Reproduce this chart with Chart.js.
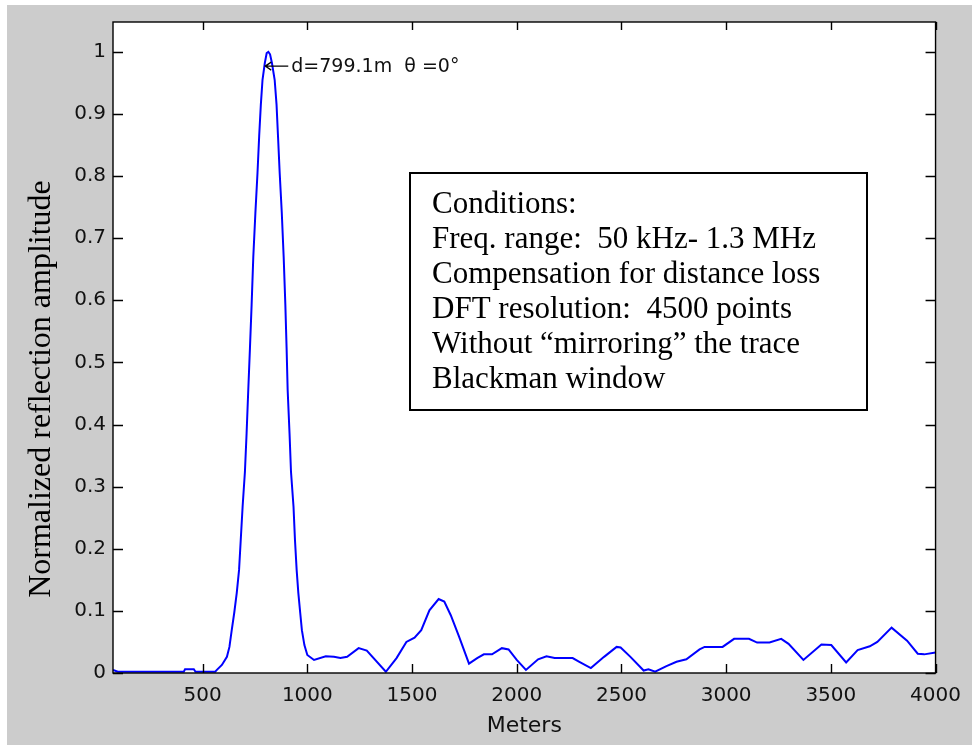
<!DOCTYPE html>
<html>
<head>
<meta charset="utf-8">
<script src="https://cdn.jsdelivr.net/npm/chart.js@4.4.1/dist/chart.umd.min.js"></script>
<style>
  html, body { margin: 0; padding: 0; background: #ffffff; }
  #wrap { width: 972px; height: 745px; position: relative; }
</style>
</head>
<body>
<div id="wrap"><canvas id="reflChart" width="972" height="745"></canvas></div>
<script>
// distance (m) and normalized amplitude
const distances = [
    72, 95, 410, 416, 458, 466, 560, 568, 592, 616, 628, 639, 651, 663, 674, 682, 691, 702, 710, 718,
    726, 734, 742, 752, 762, 770, 778, 786, 797, 806, 814, 822, 831, 844, 853, 860, 868, 878, 887, 895,
    901, 906, 915, 922, 934, 941, 949, 957, 966, 974, 986, 1000, 1032, 1088, 1127, 1158, 1190, 1245, 1284, 1375,
    1426, 1473, 1512, 1544, 1583, 1627, 1654, 1685, 1725, 1772, 1811, 1843, 1882, 1929, 1961, 2000, 2044, 2102, 2142, 2181,
    2267, 2299, 2354, 2417, 2477, 2496, 2543, 2606, 2629, 2661, 2715, 2763, 2810, 2873, 2897, 2983, 3038, 3109, 3148, 3207,
    3263, 3298, 3369, 3455, 3502, 3573, 3628, 3686, 3722, 3790, 3864, 3915, 3946, 4000
];
const amplitudes = [
    0.005, 0.002, 0.002, 0.006, 0.006, 0.002, 0.002, 0.005, 0.013, 0.026, 0.042, 0.069, 0.097, 0.129, 0.166, 0.214, 0.268, 0.324, 0.386, 0.456,
    0.523, 0.593, 0.670, 0.741, 0.805, 0.864, 0.915, 0.955, 0.982, 0.998, 1.000, 0.996, 0.982, 0.955, 0.915, 0.864, 0.805, 0.741, 0.670, 0.593,
    0.523, 0.456, 0.386, 0.324, 0.268, 0.214, 0.166, 0.129, 0.097, 0.069, 0.045, 0.029, 0.021, 0.027, 0.026, 0.024, 0.026, 0.040, 0.036, 0.002,
    0.024, 0.050, 0.057, 0.069, 0.101, 0.119, 0.115, 0.093, 0.058, 0.015, 0.024, 0.030, 0.030, 0.040, 0.038, 0.021, 0.005, 0.022, 0.027, 0.024,
    0.024, 0.018, 0.008, 0.026, 0.042, 0.041, 0.026, 0.004, 0.006, 0.002, 0.011, 0.018, 0.022, 0.038, 0.042, 0.042, 0.055, 0.055, 0.049, 0.049,
    0.055, 0.047, 0.021, 0.046, 0.045, 0.017, 0.037, 0.043, 0.050, 0.073, 0.052, 0.031, 0.030, 0.033
];

const xRange = [72, 4000];
const yRange = [0, 1.048];
const xTickValues = [500, 1000, 1500, 2000, 2500, 3000, 3500, 4000];
const yTickValues = [0, 0.1, 0.2, 0.3, 0.4, 0.5, 0.6, 0.7, 0.8, 0.9, 1];

const peakMarker = { x: 799.1, y: 0.977, text: 'd=799.1m  \u03b8 =0\u00b0' };
const conditionLines = [
    'Conditions:',
    'Freq. range:  50 kHz- 1.3 MHz',
    'Compensation for distance loss',
    'DFT resolution:  4500 points',
    'Without \u201cmirroring\u201d the trace',
    'Blackman window'
];

const tickFont = { family: '"DejaVu Sans", sans-serif', size: 20 };

// MATLAB-style figure: gray frame, boxed axes, inward ticks, text annotations
const figureFrame = {
    id: 'figureFrame',
    beforeDraw(chart) {
        const ctx = chart.ctx;
        const a = chart.chartArea;
        ctx.save();
        ctx.fillStyle = '#ffffff';
        ctx.fillRect(0, 0, chart.width, chart.height);
        ctx.fillStyle = '#cccccc';
        ctx.fillRect(7, 5, chart.width - 7, chart.height - 5);
        ctx.fillStyle = '#ffffff';
        ctx.fillRect(a.left, a.top, a.right - a.left, a.bottom - a.top);
        ctx.restore();
    },
    afterDraw(chart) {
        const ctx = chart.ctx;
        const a = chart.chartArea;
        const xs = chart.scales.x;
        const ys = chart.scales.y;
        ctx.save();

        // axes box
        ctx.strokeStyle = '#000000';
        ctx.lineWidth = 1.4;
        ctx.strokeRect(a.left, a.top, a.right - a.left, a.bottom - a.top);

        // inward ticks on all four sides
        ctx.beginPath();
        xs.ticks.forEach(t => {
            const px = Math.round(xs.getPixelForValue(t.value)) + 0.5;
            ctx.moveTo(px, a.bottom); ctx.lineTo(px, a.bottom - 9);
            ctx.moveTo(px, a.top); ctx.lineTo(px, a.top + 8);
        });
        ys.ticks.forEach(t => {
            const py = Math.round(ys.getPixelForValue(t.value)) + 0.5;
            ctx.moveTo(a.left, py); ctx.lineTo(a.left + 10, py);
            ctx.moveTo(a.right, py); ctx.lineTo(a.right - 10, py);
        });
        ctx.stroke();

        // peak annotation with arrow
        const tipX = xs.getPixelForValue(peakMarker.x);
        const tipY = ys.getPixelForValue(peakMarker.y);
        ctx.lineWidth = 1.3;
        ctx.beginPath();
        ctx.moveTo(tipX, tipY);
        ctx.lineTo(tipX + 23, tipY);
        ctx.moveTo(tipX + 6, tipY - 4);
        ctx.lineTo(tipX, tipY);
        ctx.lineTo(tipX + 6, tipY + 4);
        ctx.stroke();
        ctx.fillStyle = '#111111';
        ctx.font = '19px "DejaVu Sans", sans-serif';
        ctx.textAlign = 'left';
        ctx.textBaseline = 'middle';
        ctx.fillText(peakMarker.text, tipX + 26, tipY + 1);

        // y axis label
        ctx.save();
        ctx.translate(42, 389);
        ctx.rotate(-Math.PI / 2);
        ctx.font = '32px "Liberation Serif", "Times New Roman", serif';
        ctx.textAlign = 'center';
        ctx.textBaseline = 'middle';
        ctx.fillStyle = '#000000';
        ctx.fillText('Normalized reflection amplitude', 0, 0);
        ctx.restore();

        // conditions box
        ctx.fillStyle = '#ffffff';
        ctx.fillRect(410, 173, 457, 237);
        ctx.strokeStyle = '#000000';
        ctx.lineWidth = 2;
        ctx.strokeRect(410, 173, 457, 237);
        ctx.fillStyle = '#000000';
        ctx.font = '31px "Liberation Serif", "Times New Roman", serif';
        ctx.textBaseline = 'alphabetic';
        conditionLines.forEach((line, i) => {
            ctx.fillText(line, 432, 213 + i * 35);
        });

        ctx.restore();
    }
};

const canvas = document.getElementById('reflChart');
const ctx = canvas.getContext('2d');

new Chart(ctx, {
    type: 'line',
    data: {
        datasets: [{
            data: distances.map((d, i) => ({ x: d, y: amplitudes[i] })),
            borderColor: '#0000ff',
            borderWidth: 2,
            pointRadius: 0,
            tension: 0,
            fill: false
        }]
    },
    options: {
        responsive: false,
        animation: false,
        layout: {
            padding: { left: 0, top: 22, right: 26, bottom: 0 }
        },
        plugins: {
            legend: { display: false },
            tooltip: { enabled: false }
        },
        scales: {
            x: {
                type: 'linear',
                min: xRange[0],
                max: xRange[1],
                afterBuildTicks: function(scale) {
                    scale.ticks = xTickValues.map(v => ({ value: v }));
                },
                afterFit: function(scale) { scale.height = 72; },
                ticks: {
                    maxRotation: 0,
                    autoSkip: false,
                    color: '#111111',
                    font: tickFont,
                    padding: 11,
                    callback: function(value) { return String(value); }
                },
                grid: { display: false, drawTicks: false },
                border: { display: false },
                title: {
                    display: true,
                    text: 'Meters',
                    color: '#111111',
                    font: { family: '"DejaVu Sans", sans-serif', size: 22 },
                    padding: { top: 0, bottom: 6 }
                }
            },
            y: {
                type: 'linear',
                min: yRange[0],
                max: yRange[1],
                afterBuildTicks: function(scale) {
                    scale.ticks = yTickValues.map(v => ({ value: v }));
                },
                afterFit: function(scale) { scale.width = 113; },
                ticks: {
                    autoSkip: false,
                    color: '#111111',
                    font: tickFont,
                    padding: 7,
                    callback: function(value) { return String(Math.round(value * 10) / 10); }
                },
                grid: { display: false, drawTicks: false },
                border: { display: false }
            }
        }
    },
    plugins: [figureFrame]
});
</script>
</body>
</html>
